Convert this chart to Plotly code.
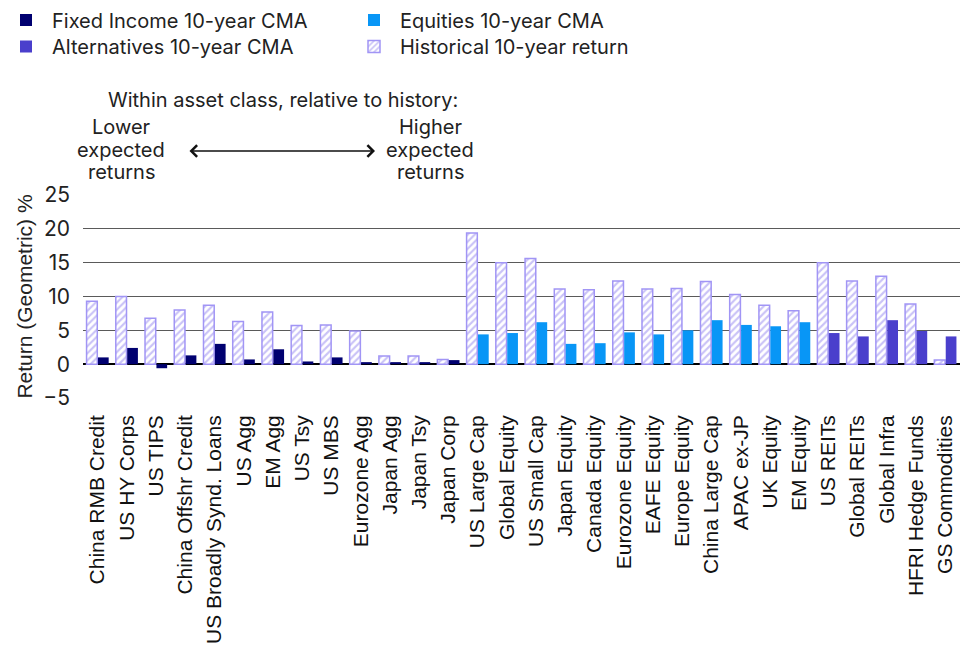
import plotly.graph_objects as go

categories = ["China RMB Credit", "US HY Corps", "US TIPS", "China Offshr Credit",
              "US Broadly Synd. Loans", "US Agg", "EM Agg", "US Tsy", "US MBS",
              "Eurozone Agg", "Japan Agg", "Japan Tsy", "Japan Corp",
              "US Large Cap", "Global Equity", "US Small Cap", "Japan Equity",
              "Canada Equity", "Eurozone Equity", "EAFE Equity", "Europe Equity",
              "China Large Cap", "APAC ex-JP", "UK Equity", "EM Equity",
              "US REITs", "Global REITs", "Global Infra", "HFRI Hedge Funds",
              "GS Commodities"]

historical = [9.3, 10.0, 6.8, 8.0, 8.7, 6.3, 7.7, 5.7, 5.8, 4.9, 1.2, 1.2, 0.7,
              19.4, 15.0, 15.6, 11.1, 11.0, 12.3, 11.1, 11.2, 12.2, 10.3, 8.7, 7.9,
              15.0, 12.3, 13.0, 8.9, 0.6]

fi_categories = categories[0:13]
fi_cma = [1.0, 2.4, -0.6, 1.3, 3.0, 0.7, 2.2, 0.4, 1.0, 0.3, 0.3, 0.3, 0.6]

eq_categories = categories[13:25]
eq_cma = [4.4, 4.6, 6.2, 3.0, 3.1, 4.7, 4.4, 5.0, 6.5, 5.8, 5.6, 6.2]

alt_categories = categories[25:30]
alt_cma = [4.6, 4.1, 6.5, 4.9, 4.1]

y_ticks = [-5, 0, 5, 10, 15, 20, 25]

FI_COLOR = "#000070"
EQ_COLOR = "#0896f6"
ALT_COLOR = "#4a3fcc"
HIST_LINE = "#a195f5"
HIST_HATCH = "#9486ef"
TEXT = "#222222"
MAIN_FONT = "Inter"
AXIS_FONT = "Liberation Sans"

fig = go.Figure()

fig.add_trace(go.Bar(
    x=categories, y=historical, name="Historical 10-year return",
    offsetgroup="h", legend="legend2", legendrank=2,
    marker=dict(color="white",
                line=dict(color=HIST_LINE, width=1.5),
                pattern=dict(shape="/", fgcolor=HIST_HATCH, bgcolor="white",
                             size=5, solidity=0.42)),
))
fig.add_trace(go.Bar(
    x=fi_categories, y=fi_cma, name="Fixed Income 10-year CMA",
    offsetgroup="c", legend="legend", legendrank=1,
    marker=dict(color=FI_COLOR, line=dict(width=0)),
))
fig.add_trace(go.Bar(
    x=eq_categories, y=eq_cma, name="Equities 10-year CMA",
    offsetgroup="c", legend="legend", legendrank=2,
    marker=dict(color=EQ_COLOR, line=dict(width=0)),
))
fig.add_trace(go.Bar(
    x=alt_categories, y=alt_cma, name="Alternatives 10-year CMA",
    offsetgroup="c", legend="legend2", legendrank=1,
    marker=dict(color=ALT_COLOR, line=dict(width=0)),
))

legend_common = dict(
    orientation="h", xref="container", yref="container",
    x=0.0, xanchor="left", yanchor="middle",
    entrywidth=291, entrywidthmode="pixels", itemwidth=42,
    font=dict(family=MAIN_FONT, size=20, color=TEXT),
    bgcolor="rgba(0,0,0,0)", traceorder="normal",
)

fig.update_layout(
    width=969, height=650,
    margin=dict(l=83, r=9, t=195, b=252),
    paper_bgcolor="white", plot_bgcolor="white",
    barmode="group", bargap=0.22, bargroupgap=0.06,
    showlegend=True,
    legend=dict(legend_common, y=1 - 20 / 650),
    legend2=dict(legend_common, y=1 - 46.5 / 650),
    font=dict(family=MAIN_FONT, color=TEXT),
)

fig.update_xaxes(
    type="category", categoryorder="array", categoryarray=categories,
    tickangle=-90, automargin=False,
    tickfont=dict(family=AXIS_FONT, size=21, color="#111111"),
    showgrid=False, showline=False, zeroline=False, ticks="",
    ticklabelstandoff=12,
)
fig.update_yaxes(
    range=[-5, 25], tickvals=y_ticks, automargin=False,
    tickfont=dict(family=MAIN_FONT, size=21, color=TEXT),
    showgrid=True, gridcolor="#5a5a5a", gridwidth=1,
    zeroline=True, zerolinecolor="#000000", zerolinewidth=1.5,
    showline=False, ticks="", ticklabelstandoff=12,
    title=dict(text="Return (Geometric) %", standoff=4,
               font=dict(family=AXIS_FONT, size=21, color=TEXT)),
)


def px_x(px):
    return (px - 83) / 877


def px_y(py):
    return (398 - py) / 203


ann_font = dict(family=MAIN_FONT, size=20, color=TEXT)
header = "Within asset class, relative to history:"
lower_lines = ["Lower", "expected", "returns"]
higher_lines = ["Higher", "expected", "returns"]
line_ys = [127, 150, 172]

fig.add_annotation(xref="paper", yref="paper", x=px_x(283), y=px_y(100),
                   text=header, showarrow=False, font=ann_font,
                   xanchor="center", yanchor="middle")
for txt, yy in zip(lower_lines, line_ys):
    fig.add_annotation(xref="paper", yref="paper", x=px_x(121), y=px_y(yy),
                       text=txt, showarrow=False, font=ann_font,
                       xanchor="center", yanchor="middle")
for txt, yy in zip(higher_lines, line_ys):
    fig.add_annotation(xref="paper", yref="paper", x=px_x(430), y=px_y(yy),
                       text=txt, showarrow=False, font=ann_font,
                       xanchor="center", yanchor="middle")
fig.add_annotation(xref="paper", yref="paper", x=px_x(375), y=px_y(151),
                   ax=-187, ay=0, axref="pixel", ayref="pixel",
                   text="", showarrow=True, arrowside="end+start",
                   arrowhead=4, startarrowhead=4, arrowsize=1.6, startarrowsize=1.6,
                   arrowwidth=1.4, arrowcolor="#111111")

fig.write_html("out.html")
